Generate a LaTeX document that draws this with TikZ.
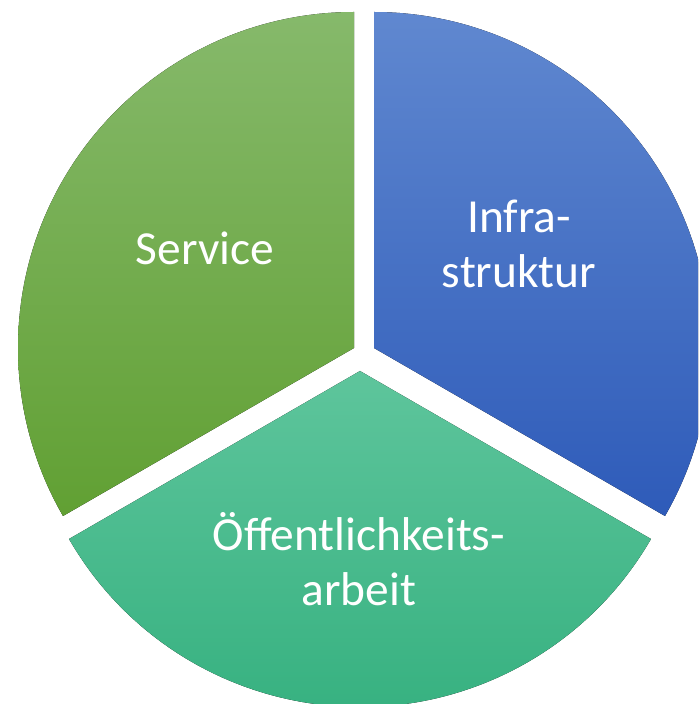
\documentclass[tikz,border=0pt]{standalone}
\usepackage{fontspec}
\setmainfont{Carlito}
\usepackage{tikz}

\definecolor{servicetop}{HTML}{86B96B}
\definecolor{servicebot}{HTML}{61A033}
\definecolor{infratop}{HTML}{6088D0}
\definecolor{infrabot}{HTML}{2E5BB9}
\definecolor{publictop}{HTML}{5EC59C}
\definecolor{publicbot}{HTML}{32AF7D}

\begin{document}
\begin{tikzpicture}[x=0.02cm, y=0.02cm,
    slice/.style={shading=axis, shading angle=0},
    label/.style={text=white, align=center, font=\fontsize{27}{31}\selectfont}]
        \useasboundingbox (0, 0) rectangle (698, 704);
        \clip (0, 0) rectangle (698, 704);

        \coordinate (cs) at (354, 356);
        \coordinate (ci) at (374, 356);
        \coordinate (cp) at (360, 333);

        \fill[slice, top color=servicetop, bottom color=servicebot]
        (cs) -- ++(90:336) arc[start angle=90, end angle=210, radius=336] -- cycle;
        \fill[slice, top color=infratop, bottom color=infrabot]
        (ci) -- ++(-30:336) arc[start angle=-30, end angle=90, radius=336] -- cycle;
        \fill[slice, top color=publictop, bottom color=publicbot]
        (cp) -- ++(210:336) arc[start angle=210, end angle=330, radius=336] -- cycle;

        \node (service) [label, anchor=base] at (205, 439) {Service};
        \node (infra) [label] at (519, 460) {Infra-\\struktur};
        \node (public) [label] at (359, 145) {Öffentlichkeits-\\arbeit};
      \end{tikzpicture}
\end{document}
